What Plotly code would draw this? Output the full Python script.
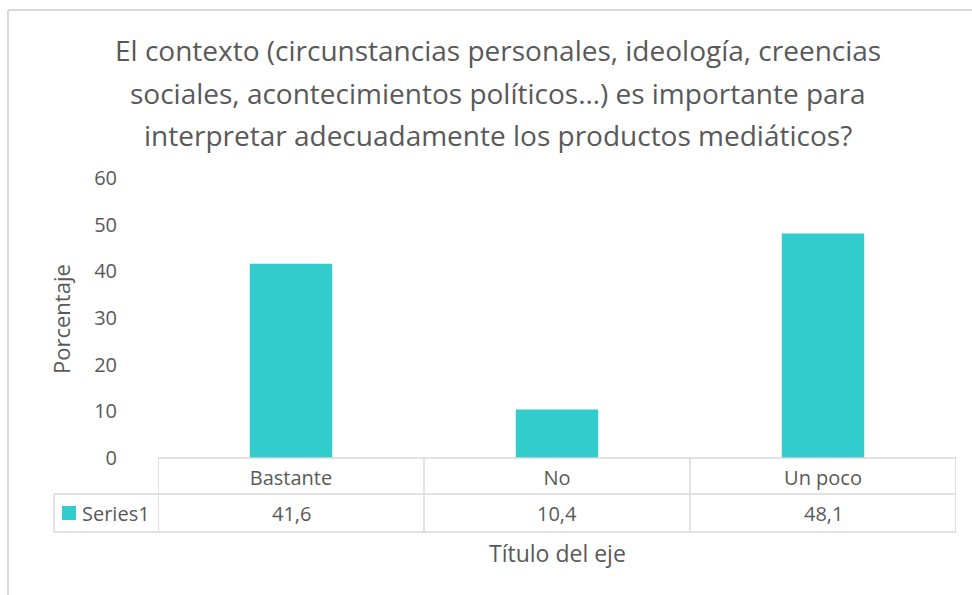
import plotly.graph_objects as go

categories = ["Bastante", "No", "Un poco"]
values = [41.6, 10.4, 48.1]
series_name = "Series1"
title_lines = [
    "El contexto (circunstancias personales, ideología, creencias",
    "sociales, acontecimientos políticos…) es importante para",
    "interpretar adecuadamente los productos mediáticos?",
]
y_title = "Porcentaje"
x_title = "Título del eje"
y_ticks = [0, 10, 20, 30, 40, 50, 60]

FONT = "Open Sans"
GREY = "#595959"
LINE = "#d9d9d9"
BAR = "#33CCCC"

W, H = 972, 595
L, R, T, B = 158, 16, 178, 137
plot_h = H - T - B
plot_w = W - L - R

def py(px):  # pixel y -> paper y
    return (H - B - px) / plot_h

def pxx(px):  # pixel x -> paper x
    return (px - L) / plot_w

fig = go.Figure()
fig.add_trace(go.Bar(x=categories, y=values, name=series_name,
                     marker=dict(color=BAR, line=dict(width=0)),
                     width=0.31, showlegend=False))

shapes = []
# chart outer border (top & left)
shapes.append(dict(type="line", xref="paper", yref="paper", x0=pxx(8), x1=pxx(975),
                   y0=py(10), y1=py(10), line=dict(color=LINE, width=2)))
shapes.append(dict(type="line", xref="paper", yref="paper", x0=pxx(8), x1=pxx(8),
                   y0=py(10), y1=py(600), line=dict(color=LINE, width=2)))
# data table lines
row1, row2 = py(494), py(532)
shapes.append(dict(type="line", xref="paper", yref="paper", x0=0, x1=1, y0=0, y1=0,
                   line=dict(color=LINE, width=1.5)))
shapes.append(dict(type="line", xref="paper", yref="paper", x0=pxx(54), x1=1, y0=row1, y1=row1,
                   line=dict(color=LINE, width=1.5)))
shapes.append(dict(type="line", xref="paper", yref="paper", x0=pxx(54), x1=1, y0=row2, y1=row2,
                   line=dict(color=LINE, width=1.5)))
shapes.append(dict(type="line", xref="paper", yref="paper", x0=pxx(54), x1=pxx(54), y0=row1, y1=row2,
                   line=dict(color=LINE, width=1.5)))
for i in range(len(categories) + 1):
    xb = i - 0.5
    shapes.append(dict(type="line", xref="x", yref="paper", x0=xb, x1=xb, y0=0, y1=row2,
                       line=dict(color=LINE, width=1.5)))
# legend key
shapes.append(dict(type="rect", xref="paper", yref="paper", x0=pxx(62), x1=pxx(76),
                   y0=py(520), y1=py(506), fillcolor=BAR, line=dict(width=0)))

annotations = []
title_y = [50, 93, 135]
for line, yy in zip(title_lines, title_y):
    annotations.append(dict(text=line, xref="paper", yref="paper", x=pxx(498), y=py(yy),
                            xanchor="center", yanchor="middle", showarrow=False,
                            font=dict(family=FONT, size=28, color=GREY)))
for c, v in zip(categories, values):
    annotations.append(dict(text=f"{v:.1f}".replace(".", ","), xref="x", yref="paper",
                            x=c, y=py(513), xanchor="center", yanchor="middle",
                            showarrow=False, font=dict(family=FONT, size=20, color=GREY)))
annotations.append(dict(text=series_name, xref="paper", yref="paper", x=pxx(80), y=py(513),
                        xanchor="left", yanchor="middle", showarrow=False,
                        font=dict(family=FONT, size=20, color=GREY)))
annotations.append(dict(text=x_title, xref="paper", yref="paper", x=pxx(557), y=py(553),
                        xanchor="center", yanchor="middle", showarrow=False,
                        font=dict(family=FONT, size=23, color=GREY)))
annotations.append(dict(text=y_title, xref="paper", yref="paper", x=pxx(61), y=py(319),
                        xanchor="center", yanchor="middle", showarrow=False, textangle=-90,
                        font=dict(family=FONT, size=22, color=GREY)))

fig.update_layout(
    width=W, height=H,
    margin=dict(l=L, r=R, t=T, b=B, autoexpand=False),
    paper_bgcolor="white", plot_bgcolor="white",
    font=dict(family=FONT, color=GREY, size=20),
    bargap=0.69,
    shapes=shapes, annotations=annotations,
    xaxis=dict(showline=False, showgrid=False, zeroline=False, ticks="",
               tickfont=dict(family=FONT, size=20, color=GREY), ticklabelstandoff=6,
               range=[-0.5, 2.5]),
    yaxis=dict(range=[0, 60], tickvals=y_ticks, showgrid=False, zeroline=False, showline=False,
               ticks="", tickfont=dict(family=FONT, size=20, color=GREY), ticklabelstandoff=40),
)

fig.write_html("out.html", config={"displayModeBar": False},
               post_script="document.body.style.margin='0px';")
